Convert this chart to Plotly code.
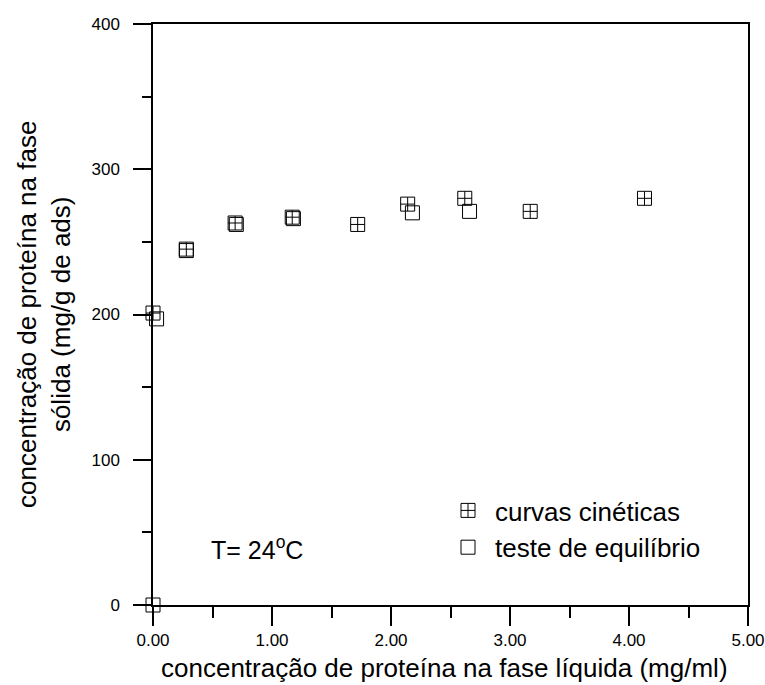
import plotly.graph_objects as go

# Data
kin_x = [0.00, 0.28, 0.69, 1.17, 1.72, 2.14, 2.62, 3.17, 4.13]
kin_y = [201, 245, 263, 267, 262, 276, 280, 271, 280]
eq_x = [0.00, 0.03, 0.28, 0.70, 1.18, 2.18, 2.66]
eq_y = [0, 197, 244, 262, 266, 270, 271]

series_names = ["curvas cinéticas", "teste de equilíbrio"]
x_ticks = [0, 1, 2, 3, 4, 5]
y_ticks = [0, 100, 200, 300, 400]
x_title = "concentração de proteína na fase líquida (mg/ml)"
y_title = "concentração de proteína na fase<br>sólida (mg/g de ads)"

FONT = "Liberation Sans, Arial, sans-serif"
L, R, T, B = 153, 17, 24, 80
PW, PH = 765 - L - R, 685 - T - B

fig = go.Figure()
fig.add_trace(go.Scatter(
    x=kin_x, y=kin_y, mode="markers", name=series_names[0],
    marker=dict(symbol="square-cross-open", size=14, color="black",
                line=dict(width=1, color="black")),
    cliponaxis=False,
))
fig.add_trace(go.Scatter(
    x=eq_x, y=eq_y, mode="markers", name=series_names[1],
    marker=dict(symbol="square-open", size=14, color="black",
                line=dict(width=1, color="black")),
    cliponaxis=False,
))

fig.update_layout(
    width=765, height=685,
    margin=dict(l=L, r=R, t=T, b=B, autoexpand=False),
    paper_bgcolor="white", plot_bgcolor="white",
    font=dict(family=FONT, color="black"),
    showlegend=True,
    legend=dict(
        x=(441 - L) / PW, y=1 - (487 - T) / PH,
        xanchor="left", yanchor="top",
        bgcolor="rgba(0,0,0,0)",
        font=dict(size=26, family=FONT, color="black"),
        itemwidth=44,
        tracegroupgap=0,
    ),
    annotations=[
        dict(x=0.87, y=39, xref="x", yref="y",
             text="T= 24<sup>o</sup>C", showarrow=False,
             font=dict(size=25, family=FONT, color="black"),
             xanchor="center", yanchor="middle"),
        dict(x=(444.5 - L) / PW, y=1 - (668 - T) / PH, xref="paper", yref="paper",
             text=x_title, showarrow=False,
             font=dict(size=26, family=FONT, color="black"),
             xanchor="center", yanchor="middle"),
        dict(x=(44 - L) / PW, y=1 - (315 - T) / PH, xref="paper", yref="paper",
             text=y_title, showarrow=False, textangle=-90,
             font=dict(size=26, family=FONT, color="black"),
             xanchor="center", yanchor="middle"),
    ],
)

fig.update_xaxes(
    range=[0, 5], tickvals=x_ticks, tickformat=".2f",
    automargin=False,
    showgrid=False, zeroline=False,
    showline=True, linecolor="black", linewidth=1.5, mirror=True,
    ticks="outside", ticklen=19, tickwidth=1.5, tickcolor="black",
    minor=dict(dtick=0.5, ticks="outside", ticklen=11, tickwidth=1.5,
               tickcolor="black", showgrid=False),
    tickfont=dict(size=17, family=FONT, color="black"),
    ticklabelstandoff=0,
)
fig.update_yaxes(
    range=[0, 400], tickvals=y_ticks,
    automargin=False,
    showgrid=False, zeroline=False,
    showline=True, linecolor="black", linewidth=1.5, mirror=True,
    ticks="outside", ticklen=18, tickwidth=1.5, tickcolor="black",
    minor=dict(dtick=50, ticks="outside", ticklen=9, tickwidth=1.5,
               tickcolor="black", showgrid=False),
    tickfont=dict(size=17, family=FONT, color="black"),
    ticklabelstandoff=10,
)

fig.write_html("out.html")
